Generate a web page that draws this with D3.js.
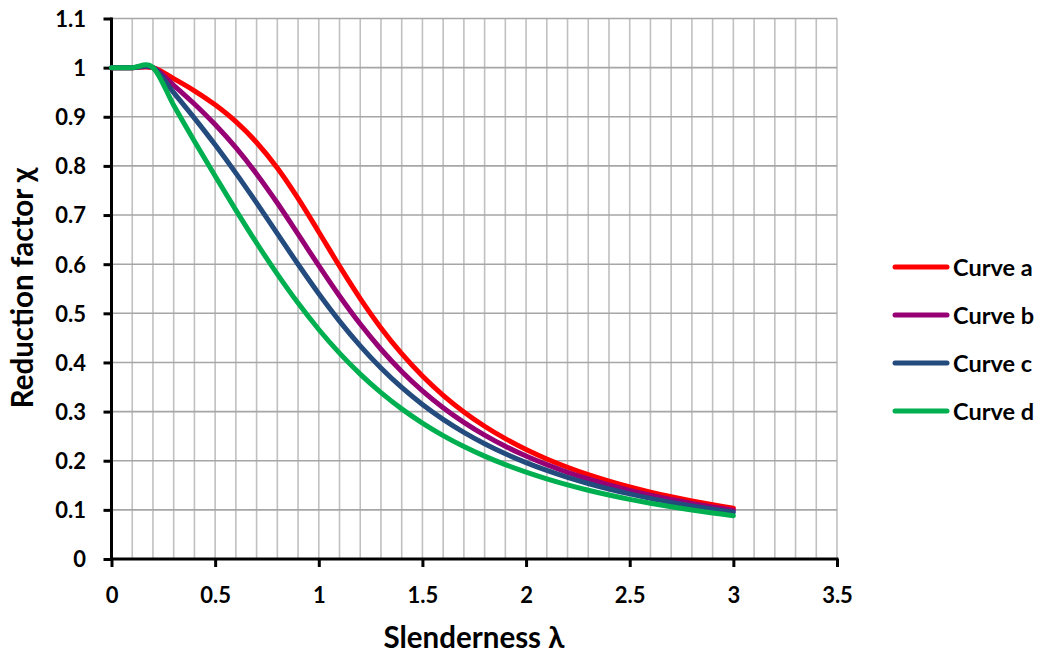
<!DOCTYPE html>
<html>
<head>
<meta charset="utf-8">
<script src="https://cdn.jsdelivr.net/npm/d3@7"></script>
<style>
  html, body { margin: 0; padding: 0; background: #fff; }
  svg { display: block; }
  text { font-family: Lato, "Open Sans", sans-serif; font-weight: bold; fill: #000; }
</style>
</head>
<body>
<svg id="chart" width="1046" height="655"></svg>
<script>
// ---- data ----
const lambda = [0, 0.1, 0.2, 0.3, 0.4, 0.5, 0.6, 0.7, 0.8, 0.9, 1.0,
                1.1, 1.2, 1.3, 1.4, 1.5, 1.6, 1.7, 1.8, 1.9, 2.0,
                2.1, 2.2, 2.3, 2.4, 2.5, 2.6, 2.7, 2.8, 2.9, 3.0];
const curveA = [1, 1, 1, 0.9775, 0.9528, 0.9243, 0.8900, 0.8477, 0.7957, 0.7339, 0.6656,
                0.5960, 0.5300, 0.4703, 0.4179, 0.3724, 0.3332, 0.2994, 0.2702, 0.2449, 0.2229,
                0.2036, 0.1867, 0.1717, 0.1585, 0.1467, 0.1362, 0.1267, 0.1182, 0.1105, 0.1036];
const curveB = [1, 1, 1, 0.9641, 0.9261, 0.8842, 0.8371, 0.7837, 0.7245, 0.6612, 0.5970,
                0.5352, 0.4781, 0.4269, 0.3817, 0.3422, 0.3079, 0.2781, 0.2521, 0.2294, 0.2095,
                0.1920, 0.1765, 0.1628, 0.1506, 0.1397, 0.1299, 0.1211, 0.1132, 0.1060, 0.0994];
const curveC = [1, 1, 1, 0.9491, 0.8973, 0.8430, 0.7854, 0.7247, 0.6622, 0.5998, 0.5399,
                0.4842, 0.4338, 0.3888, 0.3492, 0.3145, 0.2842, 0.2577, 0.2345, 0.2141, 0.1962,
                0.1803, 0.1662, 0.1537, 0.1425, 0.1325, 0.1234, 0.1153, 0.1079, 0.1012, 0.0951];
const curveD = [1, 1, 1, 0.9235, 0.8504, 0.7793, 0.7100, 0.6431, 0.5797, 0.5208, 0.4671,
                0.4189, 0.3762, 0.3385, 0.3055, 0.2766, 0.2512, 0.2289, 0.2093, 0.1920, 0.1766,
                0.1630, 0.1508, 0.1399, 0.1302, 0.1214, 0.1134, 0.1062, 0.0997, 0.0937, 0.0882];
const seriesNames = ["Curve a", "Curve b", "Curve c", "Curve d"];
const seriesColors = ["#ff0000", "#960074", "#234b7e", "#00b050"];
const xTicks = [0, 0.5, 1, 1.5, 2, 2.5, 3, 3.5];
const xTickLabels = ["0", "0.5", "1", "1.5", "2", "2.5", "3", "3.5"];
const yTicks = [0, 0.1, 0.2, 0.3, 0.4, 0.5, 0.6, 0.7, 0.8, 0.9, 1, 1.1];
const yTickLabels = ["0", "0.1", "0.2", "0.3", "0.4", "0.5", "0.6", "0.7", "0.8", "0.9", "1", "1.1"];
const xGrid = d3.range(1, 36).map(i => i / 10);
const xTitle = "Slenderness λ";
const yTitle = "Reduction factor χ";

// ---- layout ----
const svg = d3.select("#chart");
const x = d3.scaleLinear().domain([0, 3.5]).range([111.5, 837]);
const y = d3.scaleLinear().domain([0, 1.1]).range([559, 18.5]);

// gridlines
svg.append("g").selectAll("line").data(xGrid).join("line")
  .attr("x1", d => x(d)).attr("x2", d => x(d))
  .attr("y1", y(0)).attr("y2", y(1.1))
  .attr("stroke", "#c0c0c0").attr("stroke-width", 1.6);
svg.append("g").selectAll("line").data(yTicks.slice(1)).join("line")
  .attr("x1", x(0)).attr("x2", x(3.5))
  .attr("y1", d => y(d)).attr("y2", d => y(d))
  .attr("stroke", "#a6a6a6").attr("stroke-width", 1.6);

// axes
const yAxis = d3.axisLeft(y).tickValues(yTicks).tickSize(8).tickSizeOuter(0)
  .tickFormat((d, i) => yTickLabels[i]).tickPadding(10);
const gy = svg.append("g").attr("transform", `translate(${x(0)},0)`).call(yAxis);
const xAxis = d3.axisBottom(x).tickValues(xTicks).tickSize(8).tickSizeOuter(0)
  .tickFormat((d, i) => xTickLabels[i]).tickPadding(10);
const gx = svg.append("g").attr("transform", `translate(0,${y(0)})`).call(xAxis);

[gx, gy].forEach(g => {
  g.select(".domain").attr("stroke", "#000").attr("stroke-width", 3);
  g.selectAll(".tick line").attr("stroke", "#000").attr("stroke-width", 3);
  g.selectAll(".tick text").attr("font-size", 22).attr("font-family", "Lato, sans-serif")
    .attr("font-weight", "bold").attr("fill", "#000");
});
gy.selectAll(".tick text").attr("x", -25.5).attr("dy", "0.36em");
gx.selectAll(".tick text").attr("y", 44).attr("dy", 0);
gx.select(".domain").attr("d", `M${x(0) - 1.5},0H${x(3.5) + 1.5}`);
gy.select(".domain").attr("d", `M0,${y(1.1) - 1}V${y(0) + 1.5}`);

// curves
const allSeries = [curveA, curveB, curveC, curveD];
const line = d3.line()
  .x((d, i) => x(lambda[i]))
  .y(d => y(d))
  .curve(d3.curveCardinal.tension(0));
svg.append("g").selectAll("path").data(allSeries).join("path")
  .attr("d", d => line(d))
  .attr("fill", "none")
  .attr("stroke", (d, i) => seriesColors[i])
  .attr("stroke-width", 5)
  .attr("stroke-linecap", "round")
  .attr("stroke-linejoin", "round");

// legend
const legendY = d3.scalePoint().domain(seriesNames).range([267, 411]);
const lg = svg.append("g").selectAll("g").data(seriesNames).join("g")
  .attr("transform", d => `translate(0,${legendY(d)})`);
lg.append("line").attr("x1", 895).attr("x2", 947).attr("y1", 0).attr("y2", 0)
  .attr("stroke", (d, i) => seriesColors[i]).attr("stroke-width", 5)
  .attr("stroke-linecap", "round");
lg.append("text").attr("x", 953).attr("y", 8.5).attr("font-size", 23.5).text(d => d);

// titles
svg.append("text").attr("x", 474).attr("y", 648).attr("text-anchor", "middle")
  .attr("font-size", 29.5).text(xTitle);
svg.append("text").attr("transform", "translate(33,288) rotate(-90)")
  .attr("text-anchor", "middle").attr("font-size", 29.5).text(yTitle);
</script>
</body>
</html>
